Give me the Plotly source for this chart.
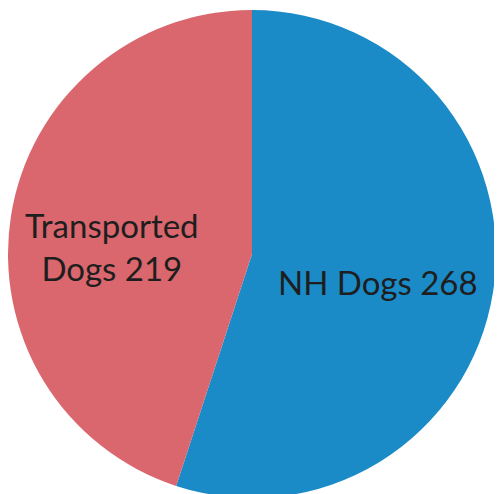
import plotly.graph_objects as go

labels = ["NH Dogs", "Transported Dogs"]
values = [268, 219]
colors = ["#1B8BC8", "#D9676D"]
label_text = ["NH Dogs 268", "Transported<br>Dogs 219"]

W, H = 502, 494
ML, MR, MT, MB = 0, 14, 0, 2
PW, PH = W - ML - MR, H - MT - MB
OFF = 8  # page body margin

fig = go.Figure(go.Pie(
    labels=labels,
    values=values,
    sort=False,
    direction="clockwise",
    rotation=0,
    marker=dict(colors=colors, line=dict(width=0)),
    textinfo="none",
    hoverinfo="label+value",
    showlegend=False,
))

# label centres in page pixels
pos = [(378, 282), (112, 246)]
for (px, py), t in zip(pos, label_text):
    fig.add_annotation(x=(px - OFF - ML) / PW, y=1 - (py - OFF - MT) / PH,
                       xref="paper", yref="paper", xanchor="center", yanchor="middle",
                       text=t, showarrow=False,
                       font=dict(family="Lato", size=33, color="#1e1e1e"),
                       align="center")

fig.update_layout(width=W, height=H, margin=dict(l=ML, r=MR, t=MT, b=MB),
                  paper_bgcolor="white", plot_bgcolor="white")
fig.write_html("out.html")
